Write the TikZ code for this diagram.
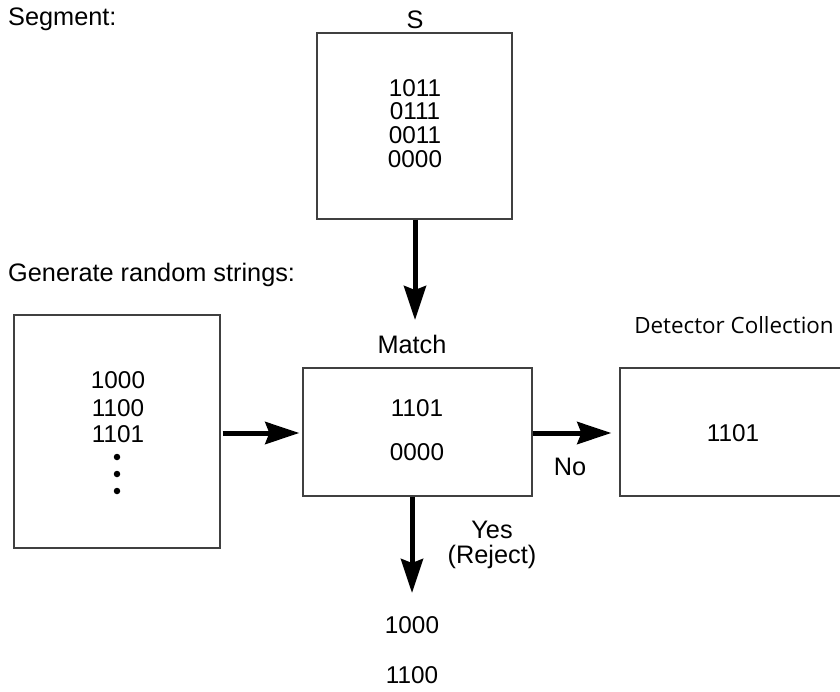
\documentclass[tikz,border=0pt]{standalone}
\usepackage{fontspec}
\setmainfont{Liberation Sans}
\newfontfamily\uifont{Open Sans}
\usetikzlibrary{arrows.meta}
\begin{document}
\begin{tikzpicture}[x=1pt,y=-1pt,
  box/.style={draw=black!75,line width=1.3pt,rectangle,inner sep=0pt},
  lbl/.style={font=\fontsize{25.3}{29}\selectfont,inner sep=0pt},
  num/.style={font=\fontsize{24.3}{26}\selectfont,inner sep=0pt,align=center},
  bigarrow/.style={line width=5pt,-{Stealth[length=34pt,width=22pt,inset=4pt]}},
  dot/.style={circle,fill=black,inner sep=0pt,minimum size=6.5pt}]
\useasboundingbox (0,0) rectangle (840,691);
% boxes
\node[box,minimum width=195pt,minimum height=186pt] (S) at (414.5,126) {};
\node[box,minimum width=206pt,minimum height=233pt] (L) at (117,431.5) {};
\node[box,minimum width=229pt,minimum height=128pt] (M) at (417.5,432) {};
\node[box,minimum width=240pt,minimum height=128pt] (D) at (740,432) {};
% labels
\node[lbl,anchor=west] (seg) at (8,19) {Segment:};
\node[lbl,anchor=west] (gen) at (8,275) {Generate random strings:};
\node[lbl] (Slbl) at (415,20) {S};
\node[lbl] (Mlbl) at (412,344) {Match};
\node[font=\uifont\fontsize{22.4}{26}\selectfont,inner sep=0pt] (Dlbl) at (734,325) {Detector Collection};
% numbers
\node[num] (s1) at (415,88) {1011};
\node[num] (s2) at (415,111) {0111};
\node[num] (s3) at (415,135) {0011};
\node[num] (s4) at (415,159) {0000};
\node[num] (l1) at (118,380) {1000};
\node[num] (l2) at (118,408) {1100};
\node[num] (l3) at (118,434) {1101};
\node[dot] (d1) at (117,457) {};
\node[dot] (d2) at (117,474) {};
\node[dot] (d3) at (117,491) {};
\node[num] (m1) at (417,408) {1101};
\node[num] (m2) at (417,452) {0000};
\node[num] (dn) at (733,433) {1101};
\node[lbl] (no) at (570,467) {No};
\node[font=\fontsize{25.3}{25}\selectfont,inner sep=0pt,align=center] (yes) at (492,545) {Yes\\(Reject)};
\node[num] (r1) at (412,625) {1000};
\node[num] (r2) at (412,675) {1100};
% arrows
\coordinate (Stip) at (415,320);
\coordinate (Mtip) at (412,593);
\draw[bigarrow] (S.south -| Stip) -- (Stip);
\draw[bigarrow,shorten <=2pt,shorten >=3pt] (L.east |- 0,433) -- (M.west |- 0,433);
\draw[bigarrow,shorten >=8pt] (M.east |- 0,433) -- (D.west |- 0,433);
\draw[bigarrow] (M.south -| Mtip) -- (Mtip);
\end{tikzpicture}
\end{document}
